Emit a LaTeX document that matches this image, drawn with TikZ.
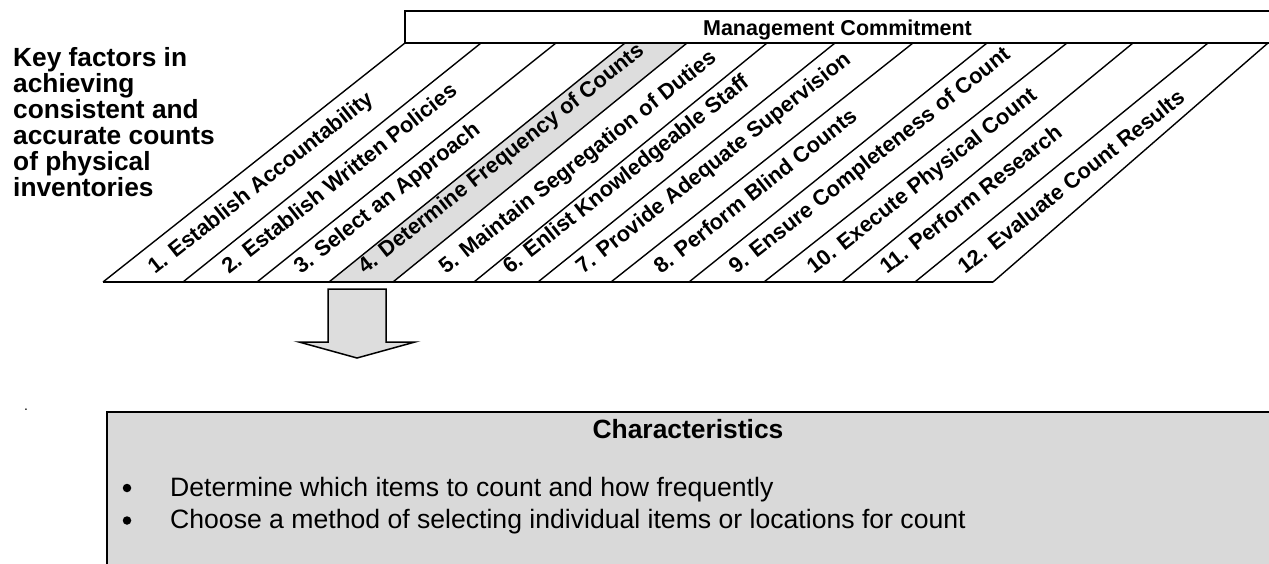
\documentclass[tikz,border=0pt]{standalone}
\usepackage{fontspec}
\setmainfont{Liberation Sans}
\definecolor{stripgray}{HTML}{DDDDDD}
\definecolor{boxgray}{HTML}{D9D9D9}
\begin{document}
\begin{tikzpicture}[x=1pt,y=-1pt,
  edge/.style={line width=1.4pt},
  baseedge/.style={line width=2.2pt},
  boxline/.style={line width=1.6pt},
  lbl/.style={font=\bfseries\fontsize{21.8}{24}\selectfont, inner sep=0pt, anchor=base west, rotate=38.35},
  titletext/.style={font=\bfseries\fontsize{26.3}{26}\selectfont, inner sep=0pt, anchor=north west, align=left},
  bodytext/.style={font=\fontsize{26.6}{30}\selectfont, inner sep=0pt, anchor=base west},
  bulletdot/.style={circle, fill=black, inner sep=0pt, minimum size=8.5pt},
  blockarrow/.style={fill=stripgray, draw=black, line width=1.5pt, line join=miter},
  charbox/.style={fill=boxgray, draw=black, line width=2pt}]
\useasboundingbox (0,0) rectangle (1269,564);

% strip corner coordinates
\foreach \i/\bx/\tx in {0/103/405, 1/183/481, 2/257/556, 3/329/625, 4/393/687, 5/474/767, 6/538/835, 7/611/913, 8/689/987, 9/764/1067, 10/842/1133, 11/915/1208, 12/993/1268}{
  \coordinate (b\i) at (\bx,282);
  \coordinate (t\i) at (\tx,43);
}

% highlighted strip 4
\fill[stripgray] (b3) -- (b4) -- (t4) -- (t3) -- cycle;

% strip edges
\foreach \i in {0,...,12}{
  \draw[edge] (b\i) -- (t\i);
}
\draw[baseedge] (b0) -- (b12);

% Management Commitment box
\coordinate (mcl) at (405,11);
\coordinate (mctr) at (1280,11);
\coordinate (mcbr) at (1280,43);
\draw[boxline] (mctr) -- (mcl) -- (t0) -- (mcbr);
\node[font=\bfseries\fontsize{21.5}{24}\selectfont, inner sep=0pt, anchor=base] (mc) at (837.5,35.5) {Management Commitment};

% strip labels
\foreach \i/\txt in {1/{1. Establish Accountability}, 2/{2. Establish Written Policies}, 3/{3. Select an Approach}, 4/{4. Determine Frequency of Counts}, 5/{5. Maintain Segregation of Duties}, 6/{6. Enlist Knowledgeable Staff}, 7/{7. Provide Adequate Supervision}, 8/{8. Perform Blind Counts}, 9/{9. Ensure Completeness of Count}, 10/{10. Execute Physical Count}, 11/{11. Perform Research}, 12/{12. Evaluate Count Results}}{
  \path (b\i) ++(-28,-7) node[lbl] (l\i) {\txt};
}

% title
\node[titletext] (title) at (13,47) {Key factors in\\achieving\\consistent and\\accurate counts\\of physical\\inventories};

% block arrow
\draw[blockarrow] (328,289) -- (386,289) -- (386,342) -- (415,342) -- (357,358) -- (299,342) -- (328,342) -- cycle;

% small dot
\node[font=\fontsize{14}{16}\selectfont, inner sep=0pt, anchor=base] (dot) at (26,410) {.};

% characteristics box
\draw[charbox] (107,412) rectangle (1285,575);
\node[font=\bfseries\fontsize{26.4}{30}\selectfont, inner sep=0pt, anchor=base] (chartitle) at (688,438) {Characteristics};
\node[bulletdot] (bul1) at (127,488) {};
\node[bodytext] (item1) at (170,496) {Determine which items to count and how frequently};
\node[bulletdot] (bul2) at (127,520.5) {};
\node[bodytext] (item2) at (170,528) {Choose a method of selecting individual items or locations for count};
\end{tikzpicture}
\end{document}
